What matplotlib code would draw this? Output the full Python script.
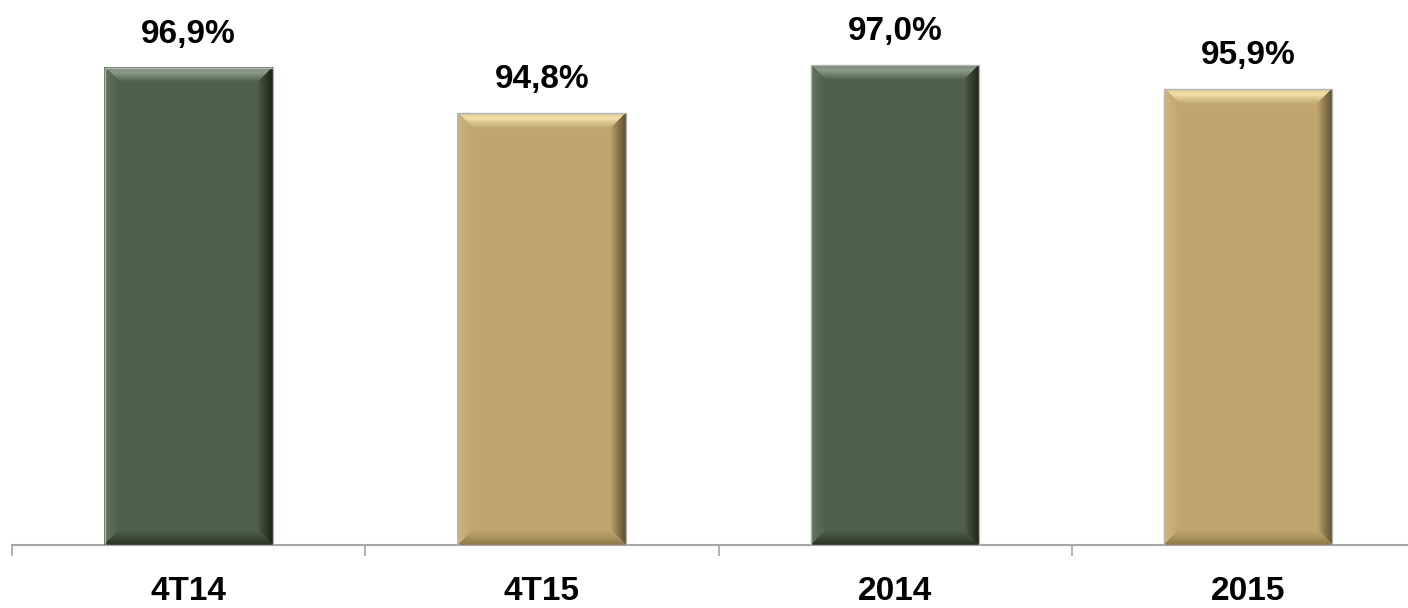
import matplotlib
matplotlib.use('Agg')
import matplotlib.pyplot as plt
from matplotlib.patches import Polygon
from matplotlib.colors import to_rgb
import numpy as np

#Chart data
categories = ['4T14', '4T15', '2014', '2015']
values = [96.9, 94.8, 97.0, 95.9]
labels = ['96,9%', '94,8%', '97,0%', '95,9%']

#Colors: (face, top bevel, left bevel, right bevel, bottom bevel)
GREEN = ('#4E604A', '#8A9B86', '#62745D', '#1A2316', '#27321F')
TAN = ('#C0A66C', '#F0DEAA', '#CEB67F', '#5E4F2A', '#8C7646')
colors = [GREEN, TAN, GREEN, TAN]

YMIN = 75
YMAX = 100
WIDTH = 0.475

plt.rcParams['font.family'] = ['Liberation Sans', 'DejaVu Sans']

fig = plt.figure(figsize=(14.08, 6.08), dpi=100)
ax = fig.add_axes([12/1408, 63/608, 1413/1408, 545/608])

x = np.arange(len(categories))
bars = ax.bar(x, np.array(values) - YMIN, bottom=YMIN, width=WIDTH,
              color=[c[0] for c in colors], edgecolor='none', zorder=2)

#Bevel drawn as soft bands (about 15 px deep)
bx = 15 / 353.0
by = 15 / 21.8
NB = 15

def mix(a, b, t):
    a = np.array(to_rgb(a))
    b = np.array(to_rgb(b))
    return tuple(a + (b - a) * t)

def top_w(d):
    if d < 0.35:
        return 0.6 + 0.4 * d / 0.35
    return (1 - d) / 0.65

for bar, c in zip(bars, colors):
    x0 = bar.get_x()
    x1 = x0 + bar.get_width()
    y0 = bar.get_y()
    y1 = y0 + bar.get_height()
    for k in range(NB):
        d0 = k / NB
        d1 = (k + 1) / NB
        d = (k + 0.5) / NB
        ox0, ox1, oy0, oy1 = x0 + bx*d0, x1 - bx*d0, y0 + by*d0, y1 - by*d0
        ix0, ix1, iy0, iy1 = x0 + bx*d1, x1 - bx*d1, y0 + by*d1, y1 - by*d1
        sides = [
            ([(ox0, oy1), (ox1, oy1), (ix1, iy1), (ix0, iy1)], c[1], top_w(d)),
            ([(ox0, oy0), (ox0, oy1), (ix0, iy1), (ix0, iy0)], c[2], 1 - d),
            ([(ox1, oy0), (ox1, oy1), (ix1, iy1), (ix1, iy0)], c[3], (1 - d) ** 0.8),
            ([(ox0, oy0), (ox1, oy0), (ix1, iy0), (ix0, iy0)], c[4], (1 - d) ** 1.2),
        ]
        for pts, col, w in sides:
            ax.add_patch(Polygon(pts, closed=True, facecolor=mix(c[0], col, w),
                                 edgecolor='none', antialiased=False, zorder=3))
    ax.add_patch(Polygon([(x0, y0), (x0, y1), (x1, y1), (x1, y0)], closed=True,
                         fill=False, edgecolor='#B4B4B4', linewidth=1.0, zorder=4))

#Value labels
for xi, v, lab in zip(x, values, labels):
    ax.annotate(lab, (xi, v), xytext=(0, 18), textcoords='offset points',
                ha='center', va='baseline', fontsize=24, fontweight='bold', color='black')

ax.set_xlim(-0.5, len(categories) - 0.5)
ax.set_ylim(YMIN, YMAX)

for s in ['top', 'right', 'left']:
    ax.spines[s].set_visible(False)
ax.spines['bottom'].set_color('#A6A6A6')
ax.spines['bottom'].set_linewidth(1.5)
ax.set_yticks([])

ax.set_xticks(x)
ax.set_xticklabels(categories, fontsize=24, fontweight='bold')
ax.tick_params(axis='x', which='major', length=0, pad=22)
ax.set_xticks(np.arange(len(categories) + 1) - 0.5, minor=True)
ax.tick_params(axis='x', which='minor', length=8, width=1.2, color='#A6A6A6')

fig.savefig('out.png', dpi=100)
